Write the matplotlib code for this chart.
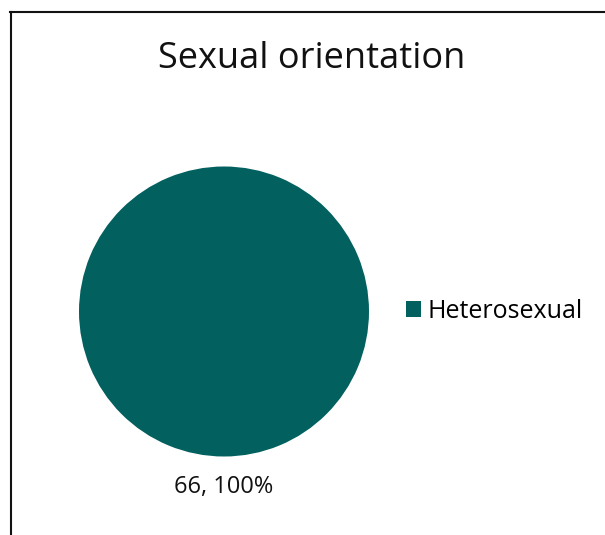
import matplotlib
matplotlib.use("Agg")
import matplotlib.pyplot as plt
from matplotlib.lines import Line2D

# data
categories = ["Heterosexual"]
counts = [66]
percents = [100]
colors = ["#02605F"]
title = "Sexual orientation"

plt.rcParams['font.family'] = ['Open Sans', 'DejaVu Sans']

W, H = 605, 535
fig = plt.figure(figsize=(W / 100, H / 100), dpi=100)

# pie axes placed in pixel units
cx, cy, r = 224, 311.5, 145
ax = fig.add_axes([(cx - r) / W, (H - cy - r) / H, 2 * r / W, 2 * r / H])
labels = [f"{c}, {p}%" for c, p in zip(counts, percents)]
wedges, texts = ax.pie(counts, colors=colors, labels=labels, startangle=90,
                       labeldistance=1.21, radius=1,
                       textprops={'fontsize': 17, 'color': '#111111'})
for t in texts:
    t.set_ha("center")
    t.set_va("center")
ax.set_xlim(-1, 1)
ax.set_ylim(-1, 1)
ax.set_aspect("equal")

fig.legend(wedges, categories, loc="center left",
           bbox_to_anchor=(383 / W, 1 - 311 / H), frameon=False,
           fontsize=18, handlelength=0.6, handleheight=0.6, handletextpad=0.3)

fig.text(312 / W, 1 - 68 / H, title, ha="center", va="baseline",
         fontsize=26, color="#111111")

# partial frame (left and top only)
fig.add_artist(Line2D([10.5 / W, 10.5 / W], [0, 1 - 12 / H], transform=fig.transFigure,
                      color="#111111", lw=1.5))
fig.add_artist(Line2D([10 / W, 1], [1 - 12 / H, 1 - 12 / H], transform=fig.transFigure,
                      color="#111111", lw=1.5))

fig.savefig("out.png", dpi=100)
